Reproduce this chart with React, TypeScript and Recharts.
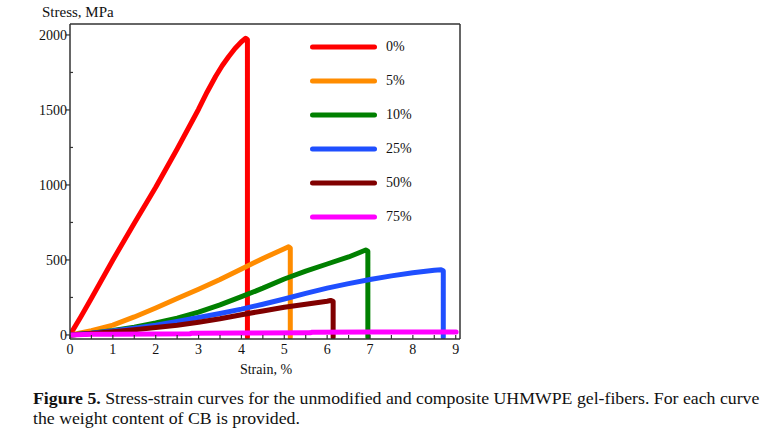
import { LineChart, Line, XAxis, YAxis, Legend } from "recharts";

// Stress-strain curves of UHMWPE gel-fibers with different CB content

const SERIF = '"Liberation Serif", "Times New Roman", serif';
const AXIS = "#333";

const strainTicks = [0, 0.5, 1, 1.5, 2, 2.5, 3, 3.5, 4, 4.5, 5, 5.5, 6, 6.5, 7, 7.5, 8, 8.5, 9];
const stressTicks = [0, 250, 500, 750, 1000, 1250, 1500, 1750, 2000];

const cbContent = ["0%", "5%", "10%", "25%", "50%", "75%"];
const lineColors = ["#ff0000", "#ff8c00", "#008000", "#1f4fff", "#800000", "#ff00ff"];

// [strain %, stress MPa]
const curve0: [number, number][] = [
  [0, 0], [0.25, 120], [0.5, 245], [1, 500], [1.5, 745], [2, 985], [2.5, 1240], [3, 1505],
  [3.2, 1620], [3.4, 1725], [3.55, 1795], [3.7, 1855], [3.85, 1910], [4.0, 1955], [4.1, 1978],
  [4.14, 1970], [4.14, -15],
];
const curve5: [number, number][] = [
  [0, 0], [0.5, 28], [1, 65], [1.5, 120], [2, 180], [2.5, 243], [3, 305], [3.5, 370],
  [4, 440], [4.5, 510], [5, 575], [5.1, 588], [5.14, 580], [5.14, -15],
];
const curve10: [number, number][] = [
  [0, 0], [0.5, 12], [1, 30], [1.5, 52], [2, 80], [2.5, 112], [3, 152], [3.5, 200], [4, 255],
  [4.5, 312], [5, 373], [5.5, 425], [6, 473], [6.5, 520], [6.9, 566], [6.95, 558], [6.95, -15],
];
const curve25: [number, number][] = [
  [0, 0], [0.5, 12], [1, 27], [1.5, 45], [2, 65], [2.5, 90], [3, 116], [3.5, 143], [4, 172],
  [4.5, 205], [5, 240], [5.5, 277], [6, 312], [6.5, 342], [7, 370], [7.5, 394], [8, 415],
  [8.5, 431], [8.66, 434], [8.71, 428], [8.71, -15],
];
const curve50: [number, number][] = [
  [0, 0], [0.5, 10], [1, 22], [1.5, 35], [2, 49], [2.5, 65], [3, 85], [3.5, 108], [4, 135],
  [4.5, 160], [5, 185], [5.5, 205], [6, 225], [6.08, 230], [6.14, 224], [6.14, -15],
];
const curve75: [number, number][] = [
  [0, 0], [0.5, 4], [1, 5], [2, 6], [2.8, 8], [2.85, 12], [4, 13], [5.6, 14], [5.65, 18],
  [7, 19], [8, 20], [9.01, 20],
];

const curves = [curve0, curve5, curve10, curve25, curve50, curve75];

const series = curves.map((pts, i) => ({
  name: cbContent[i],
  color: lineColors[i],
  data: pts.map(([s, p]) => ({ s, p })),
}));

// Mathcad-style frame: ticks point into the plot, labels only on whole values
function BottomTick({ x, y, payload }: any) {
  const v = payload.value;
  return (
    <g>
      <line x1={x} x2={x} y1={y} y2={y - 4} stroke={AXIS} strokeWidth={1.2} />
      {Number.isInteger(v) && (
        <text x={x} y={y + 15} textAnchor="middle" fontSize={14} fontFamily={SERIF} fill="#111">
          {v}
        </text>
      )}
    </g>
  );
}

function TopTick({ x, y }: any) {
  return <line x1={x} x2={x} y1={y} y2={y + 4} stroke={AXIS} strokeWidth={1.2} />;
}

function LeftTick({ x, y, payload }: any) {
  const v = payload.value;
  if (v % 500 !== 0) {
    return <line x1={x} x2={x + 3} y1={y} y2={y} stroke={AXIS} strokeWidth={1.2} />;
  }
  return (
    <g>
      <line x1={x - 4} x2={x} y1={y} y2={y} stroke={AXIS} strokeWidth={1.2} />
      <text x={x - 3} y={y + 5} textAnchor="end" fontSize={14} fontFamily={SERIF} fill="#111">
        {v}
      </text>
    </g>
  );
}

function RightTick({ x, y }: any) {
  return <line x1={x} x2={x - 4} y1={y} y2={y} stroke={AXIS} strokeWidth={1.2} />;
}

function KeyList() {
  return (
    <div style={{ fontFamily: SERIF, fontSize: 14, color: "#111" }}>
      {series.map((c) => (
        <div key={c.name} style={{ display: "flex", alignItems: "center", height: 34 }}>
          <svg width={72} height={8}>
            <line x1={5.5} x2={67.5} y1={4} y2={4} stroke={c.color} strokeWidth={5} strokeLinecap="round" />
          </svg>
          <span style={{ marginLeft: 7 }}>{c.name}</span>
        </div>
      ))}
    </div>
  );
}

export default function App() {
  return (
    <div style={{ position: "absolute", left: 0, top: 0, width: 777, height: 437, background: "#fff" }}>
      <LineChart width={777} height={385} margin={{ top: 0, right: 301, bottom: 6, left: 0 }}>
        <XAxis
          type="number"
          dataKey="s"
          domain={[0, 9.1]}
          ticks={strainTicks}
          interval={0}
          height={40}
          tickSize={0}
          tickMargin={0}
          tickLine={false}
          tick={<BottomTick />}
          axisLine={{ stroke: AXIS, strokeWidth: 1.5 }}
          allowDataOverflow
          label={{
            content: ({ viewBox }: any) => (
              <text
                x={viewBox.x + viewBox.width / 2 + 1}
                y={viewBox.y + 35}
                textAnchor="middle"
                fontSize={14}
                fontFamily={SERIF}
                fill="#111"
              >
                Strain, %
              </text>
            ),
          }}
        />
        <XAxis
          xAxisId="top"
          orientation="top"
          type="number"
          domain={[0, 9.1]}
          ticks={strainTicks}
          interval={0}
          height={24}
          tickSize={0}
          tickMargin={0}
          tickLine={false}
          tick={<TopTick />}
          axisLine={{ stroke: AXIS, strokeWidth: 1.5 }}
        />
        <YAxis
          type="number"
          domain={[-27, 2073]}
          ticks={stressTicks}
          interval={0}
          width={70}
          tickSize={0}
          tickMargin={0}
          tickLine={false}
          tick={<LeftTick />}
          axisLine={{ stroke: AXIS, strokeWidth: 1.5 }}
          allowDataOverflow
          label={{
            content: ({ viewBox }: any) => (
              <text x={viewBox.x + viewBox.width - 28} y={viewBox.y - 7} fontSize={15} fontFamily={SERIF} fill="#111">
                Stress, MPa
              </text>
            ),
          }}
        />
        <YAxis
          yAxisId="right"
          orientation="right"
          type="number"
          domain={[-27, 2073]}
          ticks={stressTicks}
          interval={0}
          width={16}
          tickSize={0}
          tickMargin={0}
          tickLine={false}
          tick={<RightTick />}
          axisLine={{ stroke: AXIS, strokeWidth: 1.5 }}
        />
        <Legend
          layout="vertical"
          align="center"
          verticalAlign="middle"
          wrapperStyle={{ left: 307, top: 30, width: 120, height: 204 }}
          content={<KeyList />}
        />
        {series.map((c) => (
          <Line
            key={c.name}
            data={c.data}
            dataKey="p"
            name={c.name}
            type="linear"
            stroke={c.color}
            strokeWidth={5}
            strokeLinecap="round"
            strokeLinejoin="round"
            dot={false}
            activeDot={false}
            isAnimationActive={false}
          />
        ))}
      </LineChart>
      <div
        style={{
          position: "absolute",
          left: 33,
          top: 389,
          fontFamily: SERIF,
          fontSize: 17,
          lineHeight: "20px",
          color: "#111",
          whiteSpace: "nowrap",
          transform: "scaleX(1.045)",
          transformOrigin: "0 0",
        }}
      >
        <b>Figure 5.</b> Stress-strain curves for the unmodified and composite UHMWPE gel-fibers. For each curve
        <br />
        the weight content of CB is provided.
      </div>
    </div>
  );
}
